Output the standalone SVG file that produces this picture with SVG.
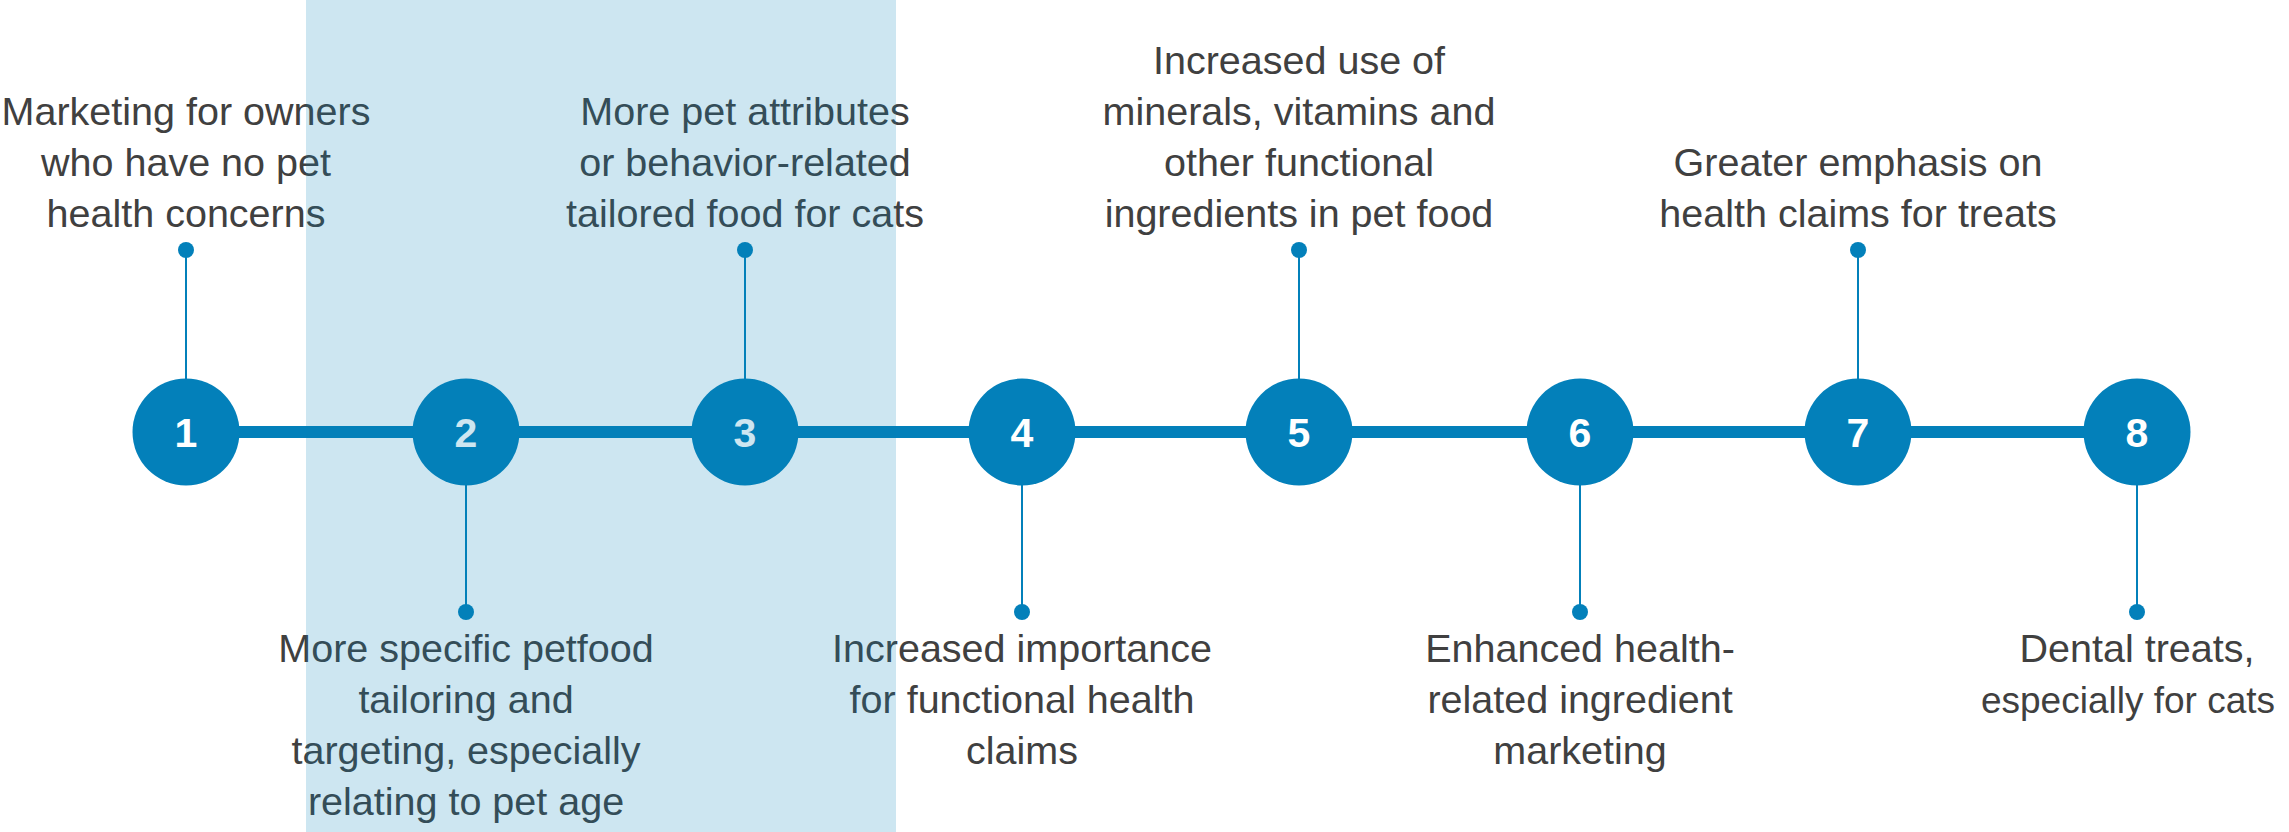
<svg xmlns="http://www.w3.org/2000/svg" width="2289" height="832" viewBox="0 0 2289 832">
<style>
.lbl{font-family:"Liberation Sans",Arial,sans-serif;font-size:39.5px;fill:#404040;text-anchor:middle}
.num{font-family:"Liberation Sans",Arial,sans-serif;font-size:41px;font-weight:bold;fill:#ffffff;text-anchor:middle}
.circ{fill:#0380BA}
.dot{fill:#0380BA}
.stem{stroke:#0380BA;stroke-width:2;fill:none}
.axis{stroke:#0380BA;stroke-width:12;fill:none}
</style>
<rect x="0" y="0" width="2289" height="832" fill="#ffffff"/>
<g id="connectors">
<line class="axis" x1="186" y1="432" x2="2137" y2="432"/>
<line class="stem" x1="186" y1="250" x2="186" y2="380"/>
<circle class="dot" cx="186" cy="250" r="8"/>
<line class="stem" x1="466" y1="484" x2="466" y2="612"/>
<circle class="dot" cx="466" cy="612" r="8"/>
<line class="stem" x1="745" y1="250" x2="745" y2="380"/>
<circle class="dot" cx="745" cy="250" r="8"/>
<line class="stem" x1="1022" y1="484" x2="1022" y2="612"/>
<circle class="dot" cx="1022" cy="612" r="8"/>
<line class="stem" x1="1299" y1="250" x2="1299" y2="380"/>
<circle class="dot" cx="1299" cy="250" r="8"/>
<line class="stem" x1="1580" y1="484" x2="1580" y2="612"/>
<circle class="dot" cx="1580" cy="612" r="8"/>
<line class="stem" x1="1858" y1="250" x2="1858" y2="380"/>
<circle class="dot" cx="1858" cy="250" r="8"/>
<line class="stem" x1="2137" y1="484" x2="2137" y2="612"/>
<circle class="dot" cx="2137" cy="612" r="8"/>
</g>
<g id="node1">
<circle class="circ" cx="186" cy="432" r="53.5"/>
<text class="num" x="186" y="447">1</text>
<text class="lbl" x="186" y="125">Marketing for owners</text>
<text class="lbl" x="186" y="175.7">who have no pet</text>
<text class="lbl" x="186" y="226.5">health concerns</text>
</g>
<g id="node2">
<circle class="circ" cx="466" cy="432" r="53.5"/>
<text class="num" x="466" y="447">2</text>
<text class="lbl" x="466" y="661.7">More specific petfood</text>
<text class="lbl" x="466" y="712.7">tailoring and</text>
<text class="lbl" x="466" y="763.7">targeting, especially</text>
<text class="lbl" x="466" y="814.7">relating to pet age</text>
</g>
<g id="node3">
<circle class="circ" cx="745" cy="432" r="53.5"/>
<text class="num" x="745" y="447">3</text>
<text class="lbl" x="745" y="125">More pet attributes</text>
<text class="lbl" x="745" y="175.7">or behavior-related</text>
<text class="lbl" x="745" y="226.5">tailored food for cats</text>
</g>
<g id="node4">
<circle class="circ" cx="1022" cy="432" r="53.5"/>
<text class="num" x="1022" y="447">4</text>
<text class="lbl" x="1022" y="661.7">Increased importance</text>
<text class="lbl" x="1022" y="712.7">for functional health</text>
<text class="lbl" x="1022" y="763.7">claims</text>
</g>
<g id="node5">
<circle class="circ" cx="1299" cy="432" r="53.5"/>
<text class="num" x="1299" y="447">5</text>
<text class="lbl" x="1299" y="74.2">Increased use of</text>
<text class="lbl" x="1299" y="125">minerals, vitamins and</text>
<text class="lbl" x="1299" y="175.7">other functional</text>
<text class="lbl" x="1299" y="226.5">ingredients in pet food</text>
</g>
<g id="node6">
<circle class="circ" cx="1580" cy="432" r="53.5"/>
<text class="num" x="1580" y="447">6</text>
<text class="lbl" x="1580" y="661.7">Enhanced health-</text>
<text class="lbl" x="1580" y="712.7">related ingredient</text>
<text class="lbl" x="1580" y="763.7">marketing</text>
</g>
<g id="node7">
<circle class="circ" cx="1858" cy="432" r="53.5"/>
<text class="num" x="1858" y="447">7</text>
<text class="lbl" x="1858" y="175.7">Greater emphasis on</text>
<text class="lbl" x="1858" y="226.5">health claims for treats</text>
</g>
<g id="node8">
<circle class="circ" cx="2137" cy="432" r="53.5"/>
<text class="num" x="2137" y="447">8</text>
<text class="lbl" x="2137" y="661.7">Dental treats,</text>
<text class="lbl" x="2128" y="712.7" style="font-size:37px">especially for cats</text>
</g>
<rect id="highlight" x="306" y="0" width="590" height="832" fill="#0380BA" fill-opacity="0.2"/>
</svg>
